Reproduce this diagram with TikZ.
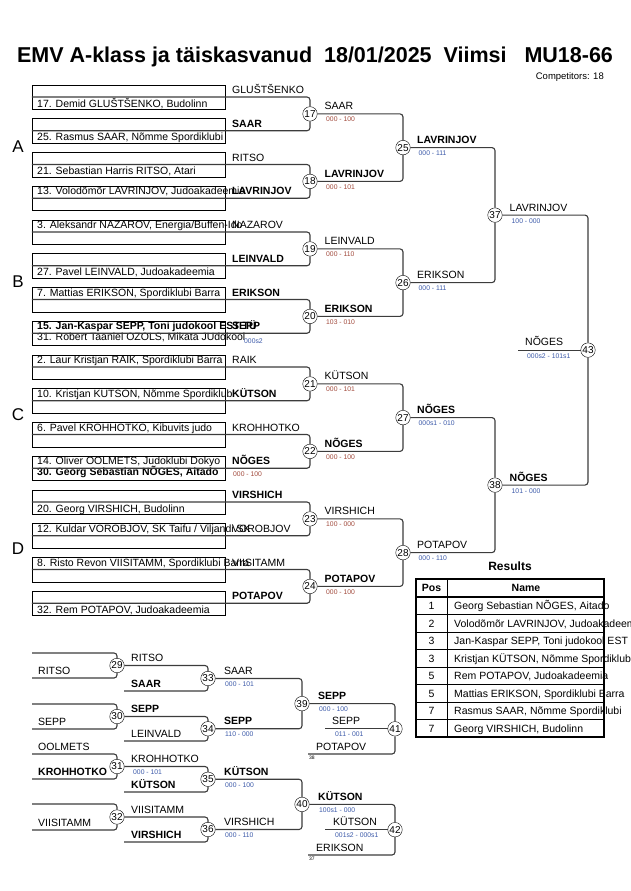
\documentclass[tikz,border=0pt]{standalone}
\usepackage{fontspec}
\setmainfont{Liberation Sans}
\usetikzlibrary{positioning}

\definecolor{scorered}{RGB}{160,72,58}
\definecolor{scoreblue}{RGB}{58,88,168}
\definecolor{lineclr}{RGB}{60,60,60}
\newcommand{\namefont}{\fontsize{10.5}{12}\selectfont}
\newcommand{\scorefont}{\fontsize{6.8}{8}\selectfont}
\newcommand{\numfont}{\fontsize{10}{11}\selectfont}

\begin{document}
\begin{tikzpicture}[x=1pt, y=-1pt,
    entry/.style={draw, minimum width=193pt, minimum height=24.5pt, inner sep=0pt},
    who/.style={anchor=base west, inner sep=0pt, font=\namefont},
    whob/.style={who, font=\namefont\bfseries},
    score/.style={anchor=base west, inner sep=0pt, font=\scorefont, text=scorered},
    bscore/.style={score, text=scoreblue},
    tiny/.style={anchor=north west, inner sep=0pt, font=\fontsize{5}{6}\selectfont},
    pool/.style={inner sep=0pt, font=\fontsize{17}{20}\selectfont},
    match/.style={circle, draw, fill=white, minimum size=14.5pt, inner sep=0pt, font=\numfont},
    br/.style={draw=lineclr, line width=1.1pt, rounded corners=3pt}]
    \useasboundingbox (0,0) rectangle (630,891);

    % heading
    \node[font=\fontsize{21.5}{25}\selectfont\bfseries] (title) at (315,57)
        {EMV A-klass ja täiskasvanud\ \ 18/01/2025\ \ Viimsi\ \ \ MU18-66};
    \node[anchor=base east, inner sep=0pt, font=\fontsize{9.5}{11}\selectfont] (count) at (604,79.5) {Competitors: 18};

    % pools
    \node[pool] (poolA) at (18,147) {A};
    \node[pool] (poolB) at (18,282) {B};
    \node[pool] (poolC) at (18,415) {C};
    \node[pool] (poolD) at (18,549) {D};

    % entry boxes
    \node[entry] (glu) at (128.5,97) {};
    \node[entry] (saar) at (128.5,130.75) {};
    \node[entry] (ritso) at (128.5,164.5) {};
    \node[entry] (lav) at (128.5,198.25) {};
    \node[entry] (naz) at (128.5,232) {};
    \node[entry] (lein) at (128.5,265.75) {};
    \node[entry] (erik) at (128.5,299.5) {};
    \node[entry] (sepp) at (128.5,333.25) {};
    \node[entry] (raik) at (128.5,367) {};
    \node[entry] (kut) at (128.5,400.75) {};
    \node[entry] (kroh) at (128.5,434.5) {};
    \node[entry] (nog) at (128.5,468.25) {};
    \node[entry] (vir) at (128.5,502) {};
    \node[entry] (voro) at (128.5,535.75) {};
    \node[entry] (viis) at (128.5,569.5) {};
    \node[entry] (pot) at (128.5,603.25) {};

    % competitors
    \node[who] (glu-t) at (37,107) {17. Demid GLUŠTŠENKO, Budolinn};
    \node[who] (saar-t) at (37,140.75) {25. Rasmus SAAR, Nõmme Spordiklubi};
    \node[who] (ritso-t) at (37,174.5) {21. Sebastian Harris RITSO, Atari};
    \node[who] (lav-t) at (37,194.95) {13. Volodõmõr LAVRINJOV, Judoakadeemia};
    \node[who] (naz-t) at (37,228.7) {3. Aleksandr NAZAROV, Energia/Buffen-Ido};
    \node[who] (lein-t) at (37,275.75) {27. Pavel LEINVALD, Judoakadeemia};
    \node[who] (erik-t) at (37,296.2) {7. Mattias ERIKSON, Spordiklubi Barra};
    \node[whob] (sepp-t) at (37,329.95) {15. Jan-Kaspar SEPP, Toni judokool EST TÜ};
    \node[who] (ozols-t) at (37,340.75) {31. Robert Taaniel OZOLS, Mikata JUdokool};
    \node[who] (raik-t) at (37,363.7) {2. Laur Kristjan RAIK, Spordiklubi Barra};
    \node[who] (kut-t) at (37,397.45) {10. Kristjan KUTSON, Nõmme Spordiklubi};
    \node[who] (kroh-t) at (37,431.2) {6. Pavel KROHHOTKO, Kibuvits judo};
    \node[who] (ool-t) at (37,464.95) {14. Oliver OOLMETS, Judoklubi Dokyo};
    \node[whob] (nog-t) at (37,475.75) {30. Georg Sebastian NÕGES, Aitado};
    \node[who] (vir-t) at (37,512) {20. Georg VIRSHICH, Budolinn};
    \node[who] (voro-t) at (37,532.45) {12. Kuldar VOROBJOV, SK Taifu / Viljandi SK};
    \node[who] (viis-t) at (37,566.2) {8. Risto Revon VIISITAMM, Spordiklubi Barra};
    \node[who] (pot-t) at (37,613.25) {32. Rem POTAPOV, Judoakadeemia};

    % names on the lines
    \node[who] (glu-l) at (232,93.7) {GLUŠTŠENKO};
    \node[whob] (saar-l) at (232,127.45) {SAAR};
    \node[who] (ritso-l) at (232,161.2) {RITSO};
    \node[whob] (lav-l) at (232,194.95) {LAVRINJOV};
    \node[who] (naz-l) at (232,228.7) {NAZAROV};
    \node[whob] (lein-l) at (232,262.45) {LEINVALD};
    \node[whob] (erik-l) at (232,296.2) {ERIKSON};
    \node[whob] (sepp-l) at (232,329.95) {SEPP};
    \node[bscore] (sepp-s) at (244,343) {000s2};
    \node[who] (raik-l) at (232,363.7) {RAIK};
    \node[whob] (kut-l) at (232,397.45) {KÜTSON};
    \node[who] (kroh-l) at (232,431.2) {KROHHOTKO};
    \node[whob] (nog-l) at (232,464.95) {NÕGES};
    \node[score] (nog-s) at (233,476.5) {000 - 100};
    \node[whob] (vir-l) at (232,498.7) {VIRSHICH};
    \node[who] (voro-l) at (232,532.45) {VOROBJOV};
    \node[who] (viis-l) at (232,566.2) {VIISITAMM};
    \node[whob] (pot-l) at (232,599.95) {POTAPOV};

    % contests
    \node[match] (m17) at (310,113.9) {17};
    \node[match] (m18) at (310,181.4) {18};
    \node[match] (m19) at (310,248.9) {19};
    \node[match] (m20) at (310,316.4) {20};
    \node[match] (m21) at (310,383.9) {21};
    \node[match] (m22) at (310,451.4) {22};
    \node[match] (m23) at (310,518.9) {23};
    \node[match] (m24) at (310,586.4) {24};
    \node[match] (m25) at (403,147.6) {25};
    \node[match] (m26) at (403,282.6) {26};
    \node[match] (m27) at (403,417.6) {27};
    \node[match] (m28) at (403,552.6) {28};
    \node[match] (m37) at (495,215.1) {37};
    \node[match] (m38) at (495,485.1) {38};
    \node[match] (m43) at (588,350.1) {43};
    \coordinate (fin) at (518,350.1);

    % winners
    \node[who] (w17) at (324.5,109.9) {SAAR};
    \node[score] (s17) at (326,121.9) {000 - 100};
    \node[whob] (w18) at (324.5,177.4) {LAVRINJOV};
    \node[score] (s18) at (326,189.4) {000 - 101};
    \node[who] (w19) at (324.5,244.9) {LEINVALD};
    \node[score] (s19) at (326,256.9) {000 - 110};
    \node[whob] (w20) at (324.5,312.4) {ERIKSON};
    \node[score] (s20) at (326,324.4) {103 - 010};
    \node[who] (w21) at (324.5,379.9) {KÜTSON};
    \node[score] (s21) at (326,391.9) {000 - 101};
    \node[whob] (w22) at (324.5,447.4) {NÕGES};
    \node[score] (s22) at (326,459.4) {000 - 100};
    \node[who] (w23) at (324.5,514.9) {VIRSHICH};
    \node[score] (s23) at (326,526.9) {100 - 000};
    \node[whob] (w24) at (324.5,582.4) {POTAPOV};
    \node[score] (s24) at (326,594.4) {000 - 100};
    \node[whob] (w25) at (417,143.6) {LAVRINJOV};
    \node[bscore] (s25) at (418.5,155.6) {000 - 111};
    \node[who] (w26) at (417,278.6) {ERIKSON};
    \node[bscore] (s26) at (418.5,290.6) {000 - 111};
    \node[whob] (w27) at (417,413.6) {NÕGES};
    \node[bscore] (s27) at (418.5,425.6) {000s1 - 010};
    \node[who] (w28) at (417,548.6) {POTAPOV};
    \node[bscore] (s28) at (418.5,560.6) {000 - 110};
    \node[who] (w37) at (509.5,211.1) {LAVRINJOV};
    \node[bscore] (s37) at (511.5,223.1) {100 - 000};
    \node[whob] (w38) at (509.5,481.1) {NÕGES};
    \node[bscore] (s38) at (511.5,493.1) {101 - 000};
    \node[who] (w43) at (525,345.6) {NÕGES};
    \node[bscore] (s43) at (527,358.1) {000s2 - 101s1};

    \draw[br] (glu.west) -| (m17.north);
    \draw[br] (saar.west) -| (m17.south);
    \draw[br] (ritso.west) -| (m18.north);
    \draw[br] (lav.west) -| (m18.south);
    \draw[br] (naz.west) -| (m19.north);
    \draw[br] (lein.west) -| (m19.south);
    \draw[br] (erik.west) -| (m20.north);
    \draw[br] (sepp.west) -| (m20.south);
    \draw[br] (raik.west) -| (m21.north);
    \draw[br] (kut.west) -| (m21.south);
    \draw[br] (kroh.west) -| (m22.north);
    \draw[br] (nog.west) -| (m22.south);
    \draw[br] (vir.west) -| (m23.north);
    \draw[br] (voro.west) -| (m23.south);
    \draw[br] (viis.west) -| (m24.north);
    \draw[br] (pot.west) -| (m24.south);
    \draw[br] (m17.east) -| (m25.north);
    \draw[br] (m18.east) -| (m25.south);
    \draw[br] (m19.east) -| (m26.north);
    \draw[br] (m20.east) -| (m26.south);
    \draw[br] (m21.east) -| (m27.north);
    \draw[br] (m22.east) -| (m27.south);
    \draw[br] (m23.east) -| (m28.north);
    \draw[br] (m24.east) -| (m28.south);
    \draw[br] (m25.east) -| (m37.north);
    \draw[br] (m26.east) -| (m37.south);
    \draw[br] (m27.east) -| (m38.north);
    \draw[br] (m28.east) -| (m38.south);
    \draw[br] (m37.east) -| (m43.north);
    \draw[br] (m38.east) -| (m43.south);
    \draw[br] (fin) -- (m43.west);

    % repechage
    \coordinate (r29t) at (32,653);
    \coordinate (r29b) at (32,678);
    \coordinate (r30t) at (32,704);
    \coordinate (r30b) at (32,729);
    \coordinate (r31t) at (32,754);
    \coordinate (r31b) at (32,779);
    \coordinate (r32t) at (32,804);
    \coordinate (r32b) at (32,830);
    \coordinate (r33b) at (124,691);
    \coordinate (r34b) at (124,741);
    \coordinate (r35b) at (124,792);
    \coordinate (r36b) at (124,842);
    \coordinate (r41b) at (308,754);
    \coordinate (r42b) at (308,855);
    \coordinate (r41w) at (325,728.8);
    \coordinate (r42w) at (325,829.7);
    \node[match] (m29) at (117,665.5) {29};
    \node[match] (m30) at (117,716.5) {30};
    \node[match] (m31) at (117,766.5) {31};
    \node[match] (m32) at (117,817) {32};
    \node[match] (m33) at (208,678.5) {33};
    \node[match] (m34) at (208,728.75) {34};
    \node[match] (m35) at (208,779.25) {35};
    \node[match] (m36) at (208,829.5) {36};
    \node[match] (m39) at (302,703.6) {39};
    \node[match] (m40) at (302,804.4) {40};
    \node[match] (m41) at (395,728.8) {41};
    \node[match] (m42) at (395,829.7) {42};

    \node[who] (r29-l) at (38,674) {RITSO};
    \node[who] (r30-l) at (38,725) {SEPP};
    \node[who] (r31-u) at (38,750) {OOLMETS};
    \node[whob] (r31-l) at (38,775) {KROHHOTKO};
    \node[who] (r32-l) at (38,826) {VIISITAMM};
    \node[who] (w29) at (131,661.5) {RITSO};
    \node[whob] (r33-l) at (131,687) {SAAR};
    \node[whob] (w30) at (131,712.5) {SEPP};
    \node[who] (r34-l) at (131,737) {LEINVALD};
    \node[who] (w31) at (131,762.5) {KROHHOTKO};
    \node[bscore] (s31) at (133,774.5) {000 - 101};
    \node[whob] (r35-l) at (131,788) {KÜTSON};
    \node[who] (w32) at (131,813) {VIISITAMM};
    \node[whob] (r36-l) at (131,838) {VIRSHICH};
    \node[who] (w33) at (224,674.5) {SAAR};
    \node[bscore] (s33) at (225,686.5) {000 - 101};
    \node[whob] (w34) at (224,724.75) {SEPP};
    \node[bscore] (s34) at (225,736.75) {110 - 000};
    \node[whob] (w35) at (224,775.25) {KÜTSON};
    \node[bscore] (s35) at (225,787.25) {000 - 100};
    \node[who] (w36) at (224,825.5) {VIRSHICH};
    \node[bscore] (s36) at (225,837.5) {000 - 110};
    \node[whob] (w39) at (318,699.6) {SEPP};
    \node[bscore] (s39) at (319,711.6) {000 - 100};
    \node[whob] (w40) at (318,800.4) {KÜTSON};
    \node[bscore] (s40) at (319,812.4) {100s1 - 000};
    \node[who] (w41) at (332,724.8) {SEPP};
    \node[bscore] (s41) at (335,736.8) {011 - 001};
    \node[who] (w42) at (333,825.7) {KÜTSON};
    \node[bscore] (s42) at (335,837.7) {001s2 - 000s1};
    \node[who] (r41-l) at (316,750) {POTAPOV};
    \node[tiny] (r41-n) at (309,756) {38};
    \node[who] (r42-l) at (316,851) {ERIKSON};
    \node[tiny] (r42-n) at (309,857) {37};

    \draw[br] (r29t) -| (m29.north);
    \draw[br] (r29b) -| (m29.south);
    \draw[br] (r30t) -| (m30.north);
    \draw[br] (r30b) -| (m30.south);
    \draw[br] (r31t) -| (m31.north);
    \draw[br] (r31b) -| (m31.south);
    \draw[br] (r32t) -| (m32.north);
    \draw[br] (r32b) -| (m32.south);
    \draw[br] (m29.east) -| (m33.north);
    \draw[br] (r33b) -| (m33.south);
    \draw[br] (m30.east) -| (m34.north);
    \draw[br] (r34b) -| (m34.south);
    \draw[br] (m31.east) -| (m35.north);
    \draw[br] (r35b) -| (m35.south);
    \draw[br] (m32.east) -| (m36.north);
    \draw[br] (r36b) -| (m36.south);
    \draw[br] (m33.east) -| (m39.north);
    \draw[br] (m34.east) -| (m39.south);
    \draw[br] (m35.east) -| (m40.north);
    \draw[br] (m36.east) -| (m40.south);
    \draw[br] (m39.east) -| (m41.north);
    \draw[br] (r41b) -| (m41.south);
    \draw[br] (r41w) -- (m41.west);
    \draw[br] (m40.east) -| (m42.north);
    \draw[br] (r42b) -| (m42.south);
    \draw[br] (r42w) -- (m42.west);

    % results
    \node[anchor=base, inner sep=0pt, font=\fontsize{12}{14}\selectfont\bfseries] (res) at (510,570) {Results};
    \draw (416,614.5) -- (604,614.5);
    \draw (416,632) -- (604,632);
    \draw (416,649.5) -- (604,649.5);
    \draw (416,667) -- (604,667);
    \draw (416,684.5) -- (604,684.5);
    \draw (416,702) -- (604,702);
    \draw (416,719.5) -- (604,719.5);
    \draw (447,579) -- (447,737);
    \draw[line width=1.4pt] (416,597) -- (604,597);
    \draw[line width=2pt] (416,579) rectangle (604,737);
    \node[anchor=base, inner sep=0pt, font=\namefont\bfseries] (hpos) at (431.5,591) {Pos};
    \node[anchor=base, inner sep=0pt, font=\namefont\bfseries] (hname) at (526,591) {Name};
    \node[anchor=base, inner sep=0pt, font=\namefont] (p1) at (431.5,609.5) {1};
    \node[anchor=base, inner sep=0pt, font=\namefont] (p2) at (431.5,627) {2};
    \node[anchor=base, inner sep=0pt, font=\namefont] (p3) at (431.5,644.5) {3};
    \node[anchor=base, inner sep=0pt, font=\namefont] (p4) at (431.5,662) {3};
    \node[anchor=base, inner sep=0pt, font=\namefont] (p5) at (431.5,679.5) {5};
    \node[anchor=base, inner sep=0pt, font=\namefont] (p6) at (431.5,697) {5};
    \node[anchor=base, inner sep=0pt, font=\namefont] (p7) at (431.5,714.5) {7};
    \node[anchor=base, inner sep=0pt, font=\namefont] (p8) at (431.5,732) {7};
    \node[who] (n1) at (454,609.5) {Georg Sebastian NÕGES, Aitado};
    \node[who] (n2) at (454,627) {Volodõmõr LAVRINJOV, Judoakadeemia};
    \node[who] (n3) at (454,644.5) {Jan-Kaspar SEPP, Toni judokool EST TÜ};
    \node[who] (n4) at (454,662) {Kristjan KÜTSON, Nõmme Spordiklubi};
    \node[who] (n5) at (454,679.5) {Rem POTAPOV, Judoakadeemia};
    \node[who] (n6) at (454,697) {Mattias ERIKSON, Spordiklubi Barra};
    \node[who] (n7) at (454,714.5) {Rasmus SAAR, Nõmme Spordiklubi};
    \node[who] (n8) at (454,732) {Georg VIRSHICH, Budolinn};
\end{tikzpicture}
\end{document}
